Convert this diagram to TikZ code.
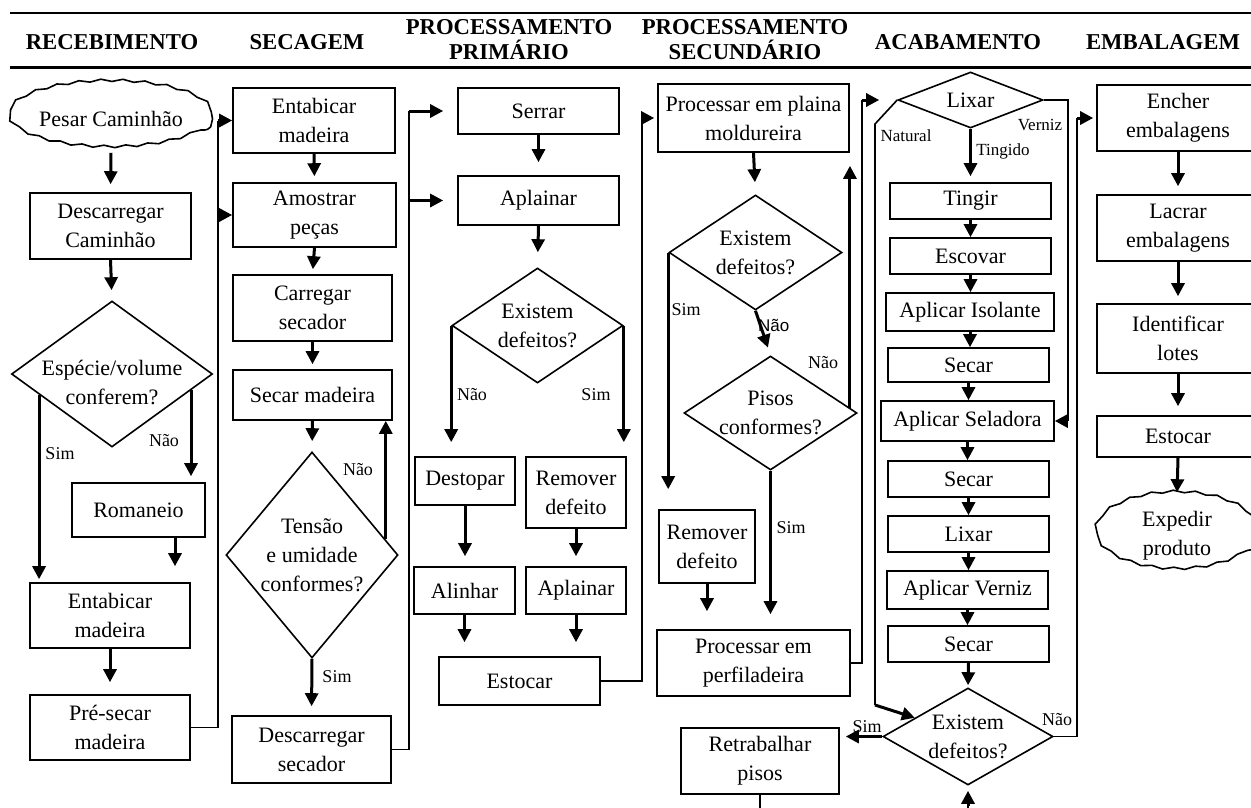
\documentclass[tikz,border=0pt]{standalone}
\usepackage{fontspec}
\setmainfont{Liberation Serif}
\newfontfamily\arialfont{Liberation Sans}
\usetikzlibrary{shapes.geometric,arrows.meta,calc,decorations.pathmorphing}

\tikzset{
  box/.style={draw, line width=1.6, inner sep=0, align=center, font=\fontsize{22}{29}\selectfont},
  dia/.style={draw, diamond, line width=1.6, inner sep=0},
  dtxt/.style={align=center, inner sep=0, font=\fontsize{22}{29}\selectfont},
  puff/.style={draw, ellipse, line width=1.6, inner sep=0, align=center, font=\fontsize{22}{29}\selectfont,
    decorate, decoration={snake, amplitude=1.2, segment length=22}},
  arr/.style={line width=3, -{Triangle[length=13,width=13]}},
  wire/.style={line width=1.6},
  lbl/.style={inner sep=0, font=\fontsize{18}{20}\selectfont},
  smlbl/.style={inner sep=0, font=\fontsize{17}{19}\selectfont},
  hd/.style={align=center, inner sep=0, font=\bfseries\fontsize{22.7}{25}\selectfont},
}

\begin{document}
\begin{tikzpicture}[x=1pt, y=-1pt]
\clip (0,0) rectangle (1251,807);
\useasboundingbox (0,0) rectangle (1251,807);

% cabecalho
\draw[line width=1.5] (10,13) -- (1251,13);
\draw[line width=3] (10,67) -- (1251,67);
\node[hd] (hRec) at (112,42) {RECEBIMENTO};
\node[hd] (hSec) at (307,42) {SECAGEM};
\node[hd] (hPri) at (509,40) {PROCESSAMENTO\\PRIMÁRIO};
\node[hd] (hSecu) at (745,40) {PROCESSAMENTO\\SECUNDÁRIO};
\node[hd] (hAca) at (958,42) {ACABAMENTO};
\node[hd] (hEmb) at (1163,42) {EMBALAGEM};

% recebimento
\node[puff, minimum width=193, minimum height=66] (pesar) at (111,119) {Pesar Caminhão};
\node[box, minimum width=161, minimum height=66] (descC) at (110.5,226) {Descarregar\\Caminhão};
\node[dia, minimum width=201, minimum height=146,
  label={[dtxt, yshift=-8]center:{Espécie/volume\\conferem?}}] (esp) at (112,374) {};
\node[box, minimum width=133, minimum height=54] (roman) at (138.5,510) {Romaneio};
\node[box, minimum width=160, minimum height=65] (entabA) at (110,615.5) {Entabicar\\madeira};
\node[box, minimum width=160, minimum height=65] (preSec) at (110,727.5) {Pré-secar\\madeira};

% secagem
\node[box, minimum width=162, minimum height=65] (entabB) at (314,120.5) {Entabicar\\madeira};
\node[box, minimum width=163, minimum height=64] (amost) at (314.5,215) {Amostrar\\peças};
\node[box, minimum width=159, minimum height=66] (carreg) at (312.5,308) {Carregar\\secador};
\node[box, minimum width=159, minimum height=50] (secMad) at (312.5,395) {Secar madeira};
\node[dia, minimum width=172, minimum height=206,
  label={[dtxt]center:{Tensão\\e umidade\\conformes?}}] (tensao) at (312,555) {};
\node[box, minimum width=159, minimum height=67] (descS) at (311.5,749.5) {Descarregar\\secador};

% processamento primario
\node[box, minimum width=161, minimum height=46] (serrar) at (538.5,111) {Serrar};
\node[box, minimum width=161, minimum height=49] (aplA) at (538.5,200.5) {Aplainar};
\node[dia, minimum width=171, minimum height=115,
  label={[dtxt]center:{Existem\\defeitos?}}] (defA) at (537.5,325.5) {};
\node[box, minimum width=100, minimum height=48] (destop) at (465,481) {Destopar};
\node[box, minimum width=100, minimum height=71] (remA) at (576,492.5) {Remover\\defeito};
\node[box, minimum width=101, minimum height=47] (alinh) at (464.5,590.5) {Alinhar};
\node[box, minimum width=100, minimum height=47] (aplB) at (576,590.5) {Aplainar};
\node[box, minimum width=161, minimum height=48] (estA) at (519.5,681) {Estocar};

% processamento secundario
\node[box, minimum width=191, minimum height=68] (plainaM) at (753.5,118) {Processar em plaina\\moldureira};
\node[dia, minimum width=173, minimum height=115,
  label={[dtxt]center:{Existem\\defeitos?}}] (defB) at (755.5,252.5) {};
\node[dia, minimum width=173, minimum height=114,
  label={[dtxt]center:{Pisos\\conformes?}}] (pisos) at (770.5,413) {};
\node[box, minimum width=96, minimum height=73] (remB) at (707,546.5) {Remover\\defeito};
\node[box, minimum width=193, minimum height=66] (perfil) at (753.5,663) {Processar em\\perfiladeira};
\node[box, minimum width=158, minimum height=66] (retrab) at (760,761) {Retrabalhar\\pisos};

% acabamento
\node[dia, minimum width=145, minimum height=56, label={[dtxt]center:Lixar}] (lixar) at (970.5,100) {};
\node[box, minimum width=161, minimum height=36] (tingir) at (970.5,201) {Tingir};
\node[box, minimum width=161, minimum height=36] (escov) at (970.5,256) {Escovar};
\node[box, minimum width=168, minimum height=38] (isol) at (970,312) {Aplicar Isolante};
\node[box, minimum width=161, minimum height=34] (secA) at (968.5,365) {Secar};
\node[box, minimum width=173, minimum height=40] (selad) at (967.5,421) {Aplicar Seladora};
\node[box, minimum width=161, minimum height=36] (secB) at (968.5,479) {Secar};
\node[box, minimum width=161, minimum height=36] (lixB) at (968.5,534) {Lixar};
\node[box, minimum width=161, minimum height=38] (verniz) at (967.5,590) {Aplicar Verniz};
\node[box, minimum width=161, minimum height=36] (secC) at (968.5,644) {Secar};
\node[dia, minimum width=170, minimum height=97,
  label={[dtxt]center:{Existem\\defeitos?}}] (defC) at (968,736.5) {};

% embalagem
\node[box, minimum width=162, minimum height=66] (ench) at (1178,118) {Encher\\embalagens};
\node[box, minimum width=162, minimum height=66] (lacr) at (1178,228) {Lacrar\\embalagens};
\node[box, minimum width=162, minimum height=69] (ident) at (1178,338.5) {Identificar\\lotes};
\node[box, minimum width=162, minimum height=41] (estB) at (1178,436.5) {Estocar};
\node[puff, minimum width=162, minimum height=77] (exped) at (1177,535.5) {Expedir\\produto};

% ligacoes: recebimento
\draw[arr, shorten >=8] (pesar.south) -- (descC.north);
\draw[arr, shorten >=10] (descC.south) -- (esp.north);
\draw[arr, shorten >=3] ($(esp.west)!.28!(esp.south)$) coordinate (espS) -- (espS |- entabA.north);
\draw[arr, shorten >=6] ($(esp.east)!.22!(esp.south)$) coordinate (espN) -- (espN |- roman.north);
\node[lbl] (lSimA) at (60,454) {Sim};
\node[lbl] (lNaoA) at (164,441) {Não};
\draw[arr, shorten >=16] ([xshift=36.5]roman.south) -- ([xshift=65]entabA.north);
\draw[arr, shorten >=12] (entabA.south) -- (preSec.north);
\coordinate (busA) at (218,0);
\draw[wire] (preSec.east) -| (busA |- entabB.west);
\draw[arr] (busA |- entabB.west) -- (entabB.west);
\draw[arr] (busA |- amost.west) -- (amost.west);

% ligacoes: secagem
\draw[arr, shorten >=6] (entabB.south) -- (amost.north);
\draw[arr, shorten >=5] (amost.south) -- (carreg.north);
\draw[arr, shorten >=5] (carreg.south) -- (secMad.north);
\draw[arr, shorten >=10] (secMad.south) -- (tensao.north);
\draw[arr, shorten >=9] (tensao.south) -- (descS.north);
\draw[arr] ($(tensao.east)!.15!(tensao.north)$) coordinate (tensN) -- (tensN |- secMad.south);
\node[lbl] (lNaoB) at (358,470) {Não};
\node[lbl] (lSimB) at (337,677) {Sim};
\coordinate (busB) at (409,0);
\draw[wire] (descS.east) -| (busB |- serrar.west);
\draw[arr, shorten >=14] (busB |- serrar.west) -- (serrar.west);
\draw[arr, shorten >=14] (busB |- aplA.west) -- (aplA.west);

% ligacoes: processamento primario
\draw[arr, shorten >=13] (serrar.south) -- (aplA.north);
\draw[arr, shorten >=15] (aplA.south) -- (defA.north);
\draw[arr, shorten >=14] (defA.west) -- (defA.west |- destop.north);
\draw[arr, shorten >=14] (defA.east) -- (defA.east |- remA.north);
\node[lbl] (lNaoC) at (472,395) {Não};
\node[lbl] (lSimC) at (596,395) {Sim};
\draw[arr, shorten >=10] (destop.south) -- (destop.south |- alinh.north);
\draw[arr, shorten >=10] (remA.south) -- (remA.south |- aplB.north);
\draw[arr, shorten >=14] (alinh.south) -- (alinh.south |- estA.north);
\draw[arr, shorten >=14] (aplB.south) -- (aplB.south |- estA.north);
\coordinate (busC) at (642,0);
\draw[wire] (estA.east) -| (busC |- plainaM.west);
\draw[arr, shorten >=3] (busC |- plainaM.west) -- (plainaM.west);

% ligacoes: processamento secundario
\draw[arr, shorten >=12] (plainaM.south) -- (defB.north);
\draw[arr, shorten >=20] (defB.west) -- (defB.west |- remB.north);
\draw[arr, shorten >=8] (defB.south) -- (pisos.north);
\node[lbl] (lSimD) at (686,310) {Sim};
\node[lbl, anchor=west, font=\arialfont\fontsize{17}{19}\selectfont] (lNaoD) at (758,325) {Não};
\draw[arr, shorten >=13] ($(pisos.east)!.09!(pisos.north)$) coordinate (pisN) -- (pisN |- plainaM.south);
\node[lbl] (lNaoE) at (823,363) {Não};
\draw[arr, shorten >=15] (pisos.south) -- (pisos.south |- perfil.north);
\node[lbl] (lSimE) at (791,528) {Sim};
\draw[arr, shorten >=18] (remB.south) -- (remB.south |- perfil.north);
\coordinate (busD) at (862,0);
\draw[wire] (perfil.east) -| (busD |- lixar.west);
\draw[arr, shorten >=18] (busD |- lixar.west) -- (lixar.west);

% ligacoes: acabamento
\draw[arr, shorten >=6] (lixar.south) -- (lixar.south |- tingir.north);
\node[smlbl] (lTing) at (1003,151) {Tingido};
\foreach \a/\b in {tingir/escov, escov/isol, isol/secA, secA/selad, selad/secB, secB/lixB, lixB/verniz, verniz/secC}
  \draw[arr] (\a.south) -- (\a.south |- \b.north);
\draw[arr, shorten >=2] (secC.south) -- (defC.north);
\coordinate (busE) at (1068,0);
\draw[wire] (lixar.east) -- (lixar.east -| busE) -- (busE |- selad.east);
\draw[arr] (busE |- selad.east) -- (selad.east);
\node[smlbl] (lVern) at (1040,125) {Verniz};
\coordinate (natA) at (875,124);
\coordinate (natB) at (875,705);
\draw[wire] (lixar.west) -- (natA) -- (natB);
\draw[arr] (natB) -- ($(defC.west)!.38!(defC.north)$);
\node[smlbl] (lNat) at (906,136) {Natural};
\draw[arr, shorten >=6] (defC.west) -- (defC.west -| retrab.east);
\node[lbl] (lSimF) at (867,727) {Sim};
\coordinate (busF) at (1077,0);
\draw[wire] (defC.east) -| (busF |- ench.west);
\draw[arr, shorten >=3] (busF |- ench.west) -- (ench.west);
\node[lbl] (lNaoF) at (1057,720) {Não};
\draw[wire] (retrab.south) -- ++(0,30) -| ([yshift=-20]defC.south);
\draw[arr, shorten >=5] ([yshift=-20]defC.south) -- (defC.south);

% ligacoes: embalagem
\draw[arr, shorten >=8] (ench.south) -- (lacr.north);
\draw[arr, shorten >=7] (lacr.south) -- (ident.north);
\draw[arr, shorten >=9] (ident.south) -- (estB.north);
\draw[arr, shorten >=4] (estB.south) -- (exped.north);
\end{tikzpicture}
\end{document}
